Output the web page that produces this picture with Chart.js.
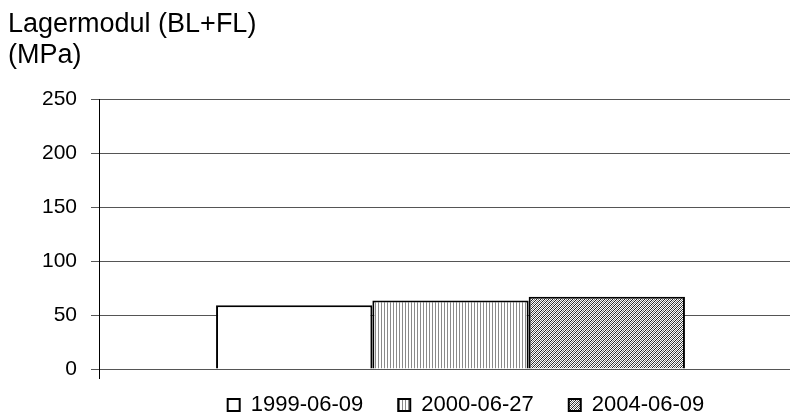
<!DOCTYPE html>
<html>
<head>
<meta charset="utf-8">
<script src="https://cdn.jsdelivr.net/npm/chart.js@4.4.1/dist/chart.umd.min.js"></script>
<style>
    html, body { margin: 0; padding: 0; background: #fff; overflow: hidden; }
    #frame { width: 790px; height: 418px; overflow: hidden; position: relative; }
    #chart { display: block; }
</style>
</head>
<body>
<div id="frame">
    <canvas id="chart" width="802" height="446"></canvas>
</div>
<script>
const categories = [''];
const seriesLabels = ['1999-06-09', '2000-06-27', '2004-06-09'];
const values1999 = [59];
const values2000 = [63.5];
const values2004 = [67];
const yMin = 0;
const yMax = 250;
const yStep = 50;
const titleLines = ['Lagermodul (BL+FL)', '(MPa)'];

const FONT = "'Liberation Sans', Arial, sans-serif";

function makePattern(kind) {
    const c = document.createElement('canvas');
    const p = c.getContext('2d');
    if (kind === 'vertical') {
        c.width = 3; c.height = 1;
        p.fillStyle = '#fff';
        p.fillRect(0, 0, 3, 1);
        p.fillStyle = '#8a8a8a';
        p.fillRect(0, 0, 1, 1);
    } else if (kind === 'diagonal') {
        c.width = 4; c.height = 4;
        p.fillStyle = '#fff';
        p.fillRect(0, 0, 4, 4);
        for (let i = 0; i < 4; i++) {
            p.fillStyle = '#222';
            p.fillRect(i, (3 - i + 4) % 4, 1, 1);
            p.fillStyle = '#777';
            p.fillRect(i, (5 - i + 4) % 4, 1, 1);
        }
    } else {
        c.width = 1; c.height = 1;
        p.fillStyle = '#fff';
        p.fillRect(0, 0, 1, 1);
    }
    return p.createPattern(c, 'repeat');
}

// nudge the legend to where the original sits
const legendShift = {
    id: 'legendShift',
    afterLayout(chart) {
        const lg = chart.legend;
        lg.top -= 20;
        lg.bottom -= 20;
        lg.left += 61;
        lg.right += 61;
    }
};

const ctx = document.getElementById('chart').getContext('2d');

new Chart(ctx, {
    type: 'bar',
    data: {
        labels: categories,
        datasets: [
            {
                label: seriesLabels[0],
                data: values1999,
                backgroundColor: makePattern('plain'),
                borderColor: '#000',
                borderWidth: 2
            },
            {
                label: seriesLabels[1],
                data: values2000,
                backgroundColor: makePattern('vertical'),
                borderColor: '#000',
                borderWidth: 2
            },
            {
                label: seriesLabels[2],
                data: values2004,
                backgroundColor: makePattern('diagonal'),
                borderColor: '#000',
                borderWidth: 2
            }
        ]
    },
    plugins: [legendShift],
    options: {
        responsive: false,
        animation: false,
        devicePixelRatio: 1,
        layout: { padding: { left: 8, right: 0, top: 0, bottom: 0 } },
        datasets: {
            bar: { categoryPercentage: 0.667, barPercentage: 1 }
        },
        plugins: {
            tooltip: { enabled: false },
            title: {
                display: true,
                text: titleLines,
                align: 'start',
                color: '#000',
                font: { family: FONT, size: 27, weight: 'normal', lineHeight: 31 / 27 },
                padding: { top: 9, bottom: 28 }
            },
            legend: {
                position: 'bottom',
                labels: {
                    color: '#000',
                    font: { family: FONT, size: 22 },
                    boxWidth: 12,
                    boxHeight: 12,
                    padding: 35
                }
            }
        },
        scales: {
            x: {
                offset: true,
                ticks: { display: false },
                grid: {
                    drawOnChartArea: false,
                    drawTicks: true,
                    tickLength: 10,
                    color: '#000'
                },
                border: { color: '#555', width: 1 }
            },
            y: {
                min: yMin,
                max: yMax,
                ticks: {
                    stepSize: yStep,
                    color: '#000',
                    padding: 14,
                    font: { family: FONT, size: 21 }
                },
                grid: {
                    color: '#555',
                    tickLength: 8
                },
                border: { color: '#000', width: 1 },
                afterFit(scale) { scale.width = 91; }
            }
        }
    }
});
</script>
</body>
</html>
